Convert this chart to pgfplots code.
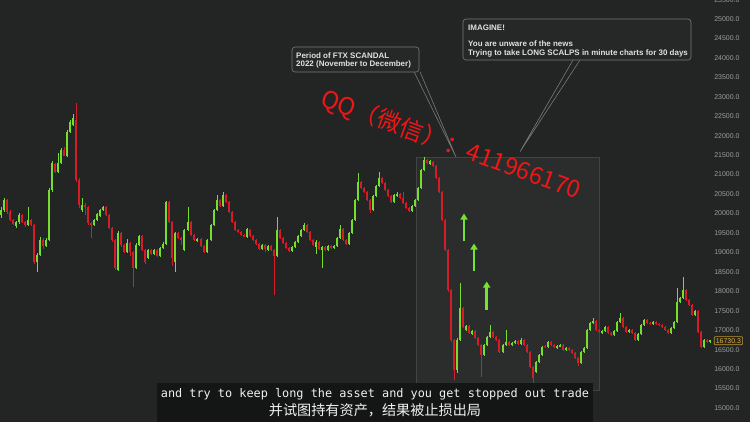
\documentclass[border=0pt]{standalone}
\usepackage{pgfplots}
\pgfplotsset{compat=1.18}
\usepackage{pgfplotstable}
\usepackage{fontspec}
\setmainfont{Liberation Sans}
\newfontfamily\cjk{Noto Sans CJK SC}
\newfontfamily\submono{DejaVu Sans Mono}
\usetikzlibrary{arrows.meta}

\definecolor{bg}{RGB}{35,37,37}
\definecolor{zone}{RGB}{43,45,45}
\definecolor{zoneedge}{RGB}{66,68,68}
\definecolor{upc}{RGB}{118,222,44}
\definecolor{dnc}{RGB}{214,28,38}
\definecolor{tickc}{RGB}{155,157,157}
\definecolor{boxfill}{RGB}{38,40,40}
\definecolor{boxedge}{RGB}{120,122,122}
\definecolor{boxtext}{RGB}{224,224,224}
\definecolor{tagedge}{RGB}{190,150,50}
\definecolor{tagtext}{RGB}{228,178,62}
\definecolor{arrowc}{RGB}{120,226,48}
\definecolor{wmark}{RGB}{240,22,22}
\definecolor{subbg}{RGB}{20,21,21}
\definecolor{subtext}{RGB}{240,240,240}

% BTC/USD daily candles: x position, open, high, low, close
\pgfplotstableread{
x o h l c
1 19960 20170 19880 20090
4 20090 20400 20050 20347
7 20347 20380 19990 20038
10 20038 20080 19800 19833
13 19833 19870 19700 19730
16 19680 19800 19640 19780
19 19780 20000 19740 19960
22 19960 19990 19750 19780
25 19780 19800 19650 19704
28 19704 20170 19680 19833
31 19833 19850 19680 19704
34 19704 19720 18700 18753
37 18753 18990 18500 18932
40 18932 19400 18900 19318
43 19318 19360 19100 19164
46 19164 19370 19140 19318
49 19318 20650 19290 20604
52 20604 21350 20560 21298
55 21250 21290 21030 21066
58 21066 21550 21040 21298
61 21298 21680 21270 21632
64 21632 21700 21470 21500
67 21500 22150 21460 22095
70 22095 22400 22060 22350
73 22280 22560 22250 22455
76 22400 22840 20800 20861
79 20861 20900 20150 20218
82 20090 20400 20040 20218
85 20218 20260 19950 20167
88 20167 20190 19700 19756
91 19756 19780 19370 19704
94 19704 19860 19680 19833
97 19833 20010 19800 19987
100 19935 20120 19900 20090
103 20090 20200 20060 20167
106 20167 20190 19930 19960
109 19960 19990 19600 19630
112 19630 19650 19280 19318
115 19318 19340 18560 18599
118 18547 19540 18520 19499
121 19499 19520 19150 19190
124 19190 19220 18980 19010
127 19010 19350 18990 19241
130 19241 19260 18900 19010
133 19010 19040 18110 18599
136 18599 19230 18570 19190
139 19190 19450 19160 19421
142 19421 19450 19030 19061
145 19061 19080 18700 18753
148 18855 19100 18830 19061
151 19061 19080 18930 18958
154 18958 19090 18940 19061
157 19061 19080 18870 18907
160 18907 19140 18880 19113
163 19113 19260 19090 19215
166 19215 20330 19190 20295
169 20295 20310 19750 19781
172 19781 19800 18650 18855
175 18753 19530 18500 19499
178 19499 19520 19340 19370
181 19370 19390 19200 19318
184 19061 19610 19030 19576
188 19576 20167 19550 19781
191 19781 19800 19420 19447
194 19447 19470 19290 19318
197 19292 19380 19260 19344
201 19344 19370 19130 19164
204 19164 19190 18980 19010
207 19010 19350 18980 19318
211 19318 19730 19290 19704
214 19704 20120 19680 20090
217 20090 20470 20060 20347
220 20347 20370 20160 20192
223 20192 20560 20170 20475
226 20475 20500 20260 20295
229 20295 20320 20010 20038
232 20038 20060 19750 19781
235 19781 19800 19540 19576
238 19576 19600 19490 19524
241 19524 19550 19420 19447
244 19447 19470 19390 19421
247 19396 19640 19370 19601
250 19576 19600 19390 19421
253 19421 19440 19290 19318
256 19318 19340 19190 19215
259 19215 19240 19060 19087
262 19087 19220 19060 19190
265 19190 19210 19000 19087
268 19061 19200 19030 19164
271 19164 19180 19030 19061
274 19061 19090 17900 18907
277 18907 19910 18880 19576
280 19576 19600 19340 19370
283 19370 19390 19210 19241
286 19241 19260 19080 19113
289 19113 19130 19000 19035
292 19035 19170 19010 19138
295 19138 19300 19110 19267
298 19267 19450 19240 19421
301 19421 19600 19400 19576
304 19576 19760 19550 19704
307 19704 19730 19500 19524
310 19524 19550 19290 19318
313 19318 19340 19160 19190
316 19138 19320 18950 19267
319 19267 19290 19060 19087
322 19061 19170 18600 19138
325 19138 19160 19030 19061
328 19061 19190 19040 19164
331 19164 19190 19090 19113
334 19113 19200 19090 19164
337 19164 19400 19140 19370
340 19370 19700 19340 19601
343 19601 19620 19290 19318
346 19318 19340 19190 19215
349 19215 19530 19190 19499
352 19499 19860 19470 19833
355 19833 20380 19810 20347
358 20347 21040 20320 20809
361 20809 20830 20620 20655
364 20655 20680 20520 20552
367 20552 20580 20310 20347
370 20347 20370 20010 20090
373 20090 20480 20060 20449
376 20449 20740 20420 20707
379 20707 21070 20680 20912
382 20912 20940 20760 20784
385 20784 20810 20570 20604
388 20604 20630 20420 20449
391 20449 20480 20260 20295
394 20295 20500 20260 20475
397 20449 20540 20420 20500
400 20500 20520 20370 20398
403 20398 20550 20240 20270
406 20270 20290 20110 20141
409 20141 20160 20030 20064
412 20064 20220 20040 20192
415 20192 20380 20170 20347
418 20347 20680 20320 20655
421 20655 21150 20630 21118
424 21118 21450 21090 21375
427 21375 21400 21270 21298
430 21272 21380 21240 21350
433 21324 21350 21190 21221
436 21221 21240 20880 20912
439 20912 20940 20520 20552
442 20552 20570 19800 19833
445 19833 19860 19030 19061
448 19061 19080 17980 18033
451 18033 18050 16700 16748
454 16748 16770 15720 15977
457 15977 16800 15900 16748
460 16748 18213 16720 17571
463 17571 17600 17050 17082
466 17005 17140 16980 17108
469 17108 17130 16900 16928
472 16902 17010 16880 16979
475 16979 17000 16770 16799
478 16799 16820 16590 16619
481 16619 16640 15800 16362
484 16362 16650 16330 16619
487 16619 16850 16590 16825
490 16825 17130 16800 16954
493 16954 16970 16800 16825
496 16825 16850 16720 16748
499 16748 16770 16410 16439
503 16439 16650 16410 16619
506 16619 17010 16590 16697
509 16697 16720 16590 16619
512 16619 16700 16600 16671
515 16671 16760 16650 16722
518 16722 16750 16620 16645
521 16645 16800 16620 16748
524 16748 16770 16590 16619
527 16619 16640 16410 16439
530 16439 16460 16020 16054
533 16054 16080 15640 15771
536 15925 16210 15900 16182
539 16182 16390 16150 16362
542 16362 16600 16340 16568
545 16594 16620 16540 16568
548 16568 16730 16540 16697
551 16697 16720 16590 16619
554 16619 16640 16540 16568
557 16542 16620 16510 16594
560 16594 16650 16570 16619
563 16619 16640 16460 16491
566 16491 16570 16460 16542
569 16542 16560 16460 16491
572 16491 16510 16390 16414
575 16414 16430 16260 16285
578 16285 16300 16080 16157
581 16157 16470 16130 16439
584 16439 16570 16410 16542
587 16542 17030 16510 17005
590 17005 17210 16980 17185
593 17185 17320 17160 17236
596 17236 17260 16980 17005
599 17005 17030 16930 16954
602 16928 17010 16900 16979
605 16979 17110 16950 17082
608 17082 17100 16900 16928
611 16928 16950 16850 16876
614 16876 17010 16850 16979
617 16979 17240 16950 17211
620 17211 17440 17190 17313
623 17313 17330 17050 17082
626 17082 17100 16920 16954
629 16954 17040 16930 17005
632 17005 17030 16900 16928
635 16928 16950 16720 16748
638 16748 16930 16720 16902
641 16902 17160 16880 17134
644 17134 17290 17110 17262
647 17262 17290 17160 17185
650 17185 17200 17130 17160
653 17160 17240 17130 17211
656 17211 17230 17130 17160
659 17160 17180 17100 17134
662 17134 17150 17050 17082
665 17082 17100 16980 17005
668 17005 17030 16900 16928
671 16928 17080 16900 17056
674 17056 17240 17030 17211
677 17211 18085 17190 17725
680 17725 17860 17700 17827
683 17827 18367 17800 18033
686 18033 18060 17750 17776
689 17776 17800 17620 17648
692 17648 17670 17360 17391
695 17391 17530 17360 17494
698 17494 17510 16920 16954
701 16954 16980 16530 16568
704 16568 16780 16540 16748
707 16748 16770 16670 16697
710 16697 16760 16670 16730.3
}\candles

% one vertical stroke per candle, drawn as an explicit error bar
\pgfplotsset{
  candle part/.style={only marks, mark size=0pt,
    mark options={draw=none, fill=none}, forget plot,
    error bars/.cd, y dir=both, y explicit, error mark=none,
    error bar style={#1}},
}

\begin{document}
\begin{tikzpicture}[x=1bp,y=1bp]
% chart background and the highlighted November-December window
\fill[bg] (0,0) rectangle (750,422);
\fill[zone] (416,32) rectangle (599,265);
\draw[zoneedge, line width=0.6bp] (416,32) rectangle (599,265);

\begin{axis}[
  at={(0,0)}, anchor=south west,
  width=750bp, height=422bp, scale only axis,
  xmin=0, xmax=750, ymin=14640, ymax=25488.4,
  axis line style={draw=none},
  major tick style={draw=none},
  major tick length=0pt,
  xtick=\empty,
  ytick={15000,15500,...,25000},
  scaled y ticks=false,
  yticklabel pos=right,
  /pgf/number format/fixed,
  /pgf/number format/fixed zerofill,
  /pgf/number format/precision=1,
  /pgf/number format/1000 sep={},
  /pgf/number format/assume math mode=true,
  yticklabel style={anchor=east, xshift=-7bp, text=tickc,
    font=\fontsize{7}{8}\selectfont},
]
% wicks: high to low
\addplot[candle part={draw=dnc, line width=0.8bp}]
  table[x expr={\thisrow{c}<\thisrow{o} ? \thisrow{x} : -100},
        y expr={(\thisrow{h}+\thisrow{l})/2},
        y error expr={(\thisrow{h}-\thisrow{l})/2}] {\candles};
\addplot[candle part={draw=upc, line width=0.8bp}]
  table[x expr={\thisrow{c}<\thisrow{o} ? -100 : \thisrow{x}},
        y expr={(\thisrow{h}+\thisrow{l})/2},
        y error expr={(\thisrow{h}-\thisrow{l})/2}] {\candles};
% bodies: open to close
\addplot[candle part={draw=dnc, line width=2.4bp}]
  table[x expr={\thisrow{c}<\thisrow{o} ? \thisrow{x} : -100},
        y expr={(\thisrow{o}+\thisrow{c})/2},
        y error expr={(\thisrow{o}-\thisrow{c})/2+10}] {\candles};
\addplot[candle part={draw=upc, line width=2.4bp}]
  table[x expr={\thisrow{c}<\thisrow{o} ? -100 : \thisrow{x}},
        y expr={(\thisrow{o}+\thisrow{c})/2},
        y error expr={(\thisrow{c}-\thisrow{o})/2+10}] {\candles};
% last price tag
\node[draw=tagedge, fill=bg, text=tagtext, line width=0.7bp, rounded corners=1bp,
      inner sep=1.6bp, font=\fontsize{7}{8}\selectfont]
  at (axis cs:728.4,16730.3) {16730.3};
\end{axis}

% top tick label, half outside the chart
\node[anchor=east, text=tickc, font=\fontsize{7}{8}\selectfont] at (743,422.4) {25500.0};

% callout pointers
\draw[boxedge, line width=0.6bp] (414,350.3) -- (456,265) -- (420,350.3);
\draw[boxedge, line width=0.6bp] (573,362) -- (520,270.3) -- (580,362);

% callout boxes
\draw[boxedge, fill=boxfill, line width=0.6bp, rounded corners=3bp] (292,350) rectangle (419,375);
\node[anchor=base west, text=boxtext, font=\fontsize{8}{9}\selectfont\bfseries, inner sep=0pt]
  at (296,363.7) {Period of FTX SCANDAL};
\node[anchor=base west, text=boxtext, font=\fontsize{8}{9}\selectfont\bfseries, inner sep=0pt]
  at (296,355.5) {2022 (November to December)};

\draw[boxedge, fill=boxfill, line width=0.6bp, rounded corners=3bp] (463,362) rectangle (691,403);
\node[anchor=base west, text=boxtext, font=\fontsize{8}{9}\selectfont\bfseries, inner sep=0pt]
  at (468,391.5) {IMAGINE!};
\node[anchor=base west, text=boxtext, font=\fontsize{8}{9}\selectfont\bfseries, inner sep=0pt]
  at (468,375.5) {You are unware of the news};
\node[anchor=base west, text=boxtext, font=\fontsize{8}{9}\selectfont\bfseries, inner sep=0pt]
  at (468,367) {Trying to take LONG SCALPS in minute charts for 30 days};

% long-entry arrows
\draw[arrowc, line width=2.8bp, -{Triangle[length=6bp, width=7bp]}] (464,181) -- (464,208.5);
\draw[arrowc, line width=2.8bp, -{Triangle[length=6bp, width=7bp]}] (474,151) -- (474,178.5);
\draw[arrowc, line width=2.8bp, -{Triangle[length=6bp, width=7bp]}] (486.7,112.5) -- (486.7,140.5);

% contact watermark
\node[text=wmark, rotate=-20, font=\cjk\fontsize{24}{26}\selectfont, inner sep=0pt]
  at (451,277) {QQ（微信）：411966170};

% subtitle bar
\fill[subbg] (157,0) rectangle (593,39.3);
\node[anchor=base, text=subtext, font=\submono\fontsize{11.9}{13}\selectfont, inner sep=0pt]
  at (375,24.3) {and try to keep long the asset and you get stopped out trade};
\node[anchor=base, text=subtext, font=\cjk\fontsize{14.2}{16}\selectfont, inner sep=0pt]
  at (375,6.3) {并试图持有资产，结果被止损出局};

\pgfresetboundingbox
\useasboundingbox (0,0) rectangle (750,422);
\end{tikzpicture}
\end{document}
